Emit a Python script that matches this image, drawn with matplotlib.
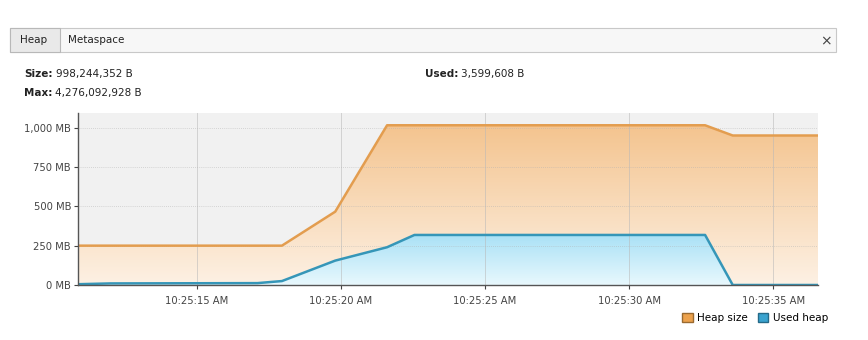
import numpy as np
import matplotlib
matplotlib.use('Agg')
import matplotlib.pyplot as plt
from matplotlib.patches import Rectangle, Patch
from matplotlib.colors import LinearSegmentedColormap

# seconds after 10:25:00
heap_t = [10.87, 17.95, 19.8, 21.6, 32.64, 33.6, 36.56]
heap_mb = [250, 250, 466, 1015, 1015, 950, 950]

used_t = [10.87, 12.0, 17.1, 17.95, 19.8, 21.6, 22.55, 32.64, 33.6, 36.56]
used_mb = [5, 10, 12, 25, 155, 240, 318, 318, 0, 0]

y_ticks = [0, 250, 500, 750, 1000]
y_labels = ['0 MB', '250 MB', '500 MB', '750 MB', '1,000 MB']
x_ticks = [15, 20, 25, 30, 35]
x_labels = ['10:25:15 AM', '10:25:20 AM', '10:25:25 AM', '10:25:30 AM', '10:25:35 AM']

info = [('Size:', '998,244,352 B', 24, 74),
        ('Max:', '4,276,092,928 B', 24, 93),
        ('Used:', '3,599,608 B', 425, 74)]

plt.rcParams['font.family'] = ['DejaVu Sans']

fig = plt.figure(figsize=(8.68, 3.4), dpi=100)
W, H = 868, 340

def fx(px):
    return px / W

def fy(py):
    return 1 - py / H

# tab bar
fig.patches.append(Rectangle((fx(10), fy(52)), fx(826), 24 / H, transform=fig.transFigure,
                             facecolor='#f7f7f7', edgecolor='#c8c8c8', lw=0.8))
fig.patches.append(Rectangle((fx(10), fy(52)), fx(50), 24 / H, transform=fig.transFigure,
                             facecolor='#e9e9e9', edgecolor='#b8b8b8', lw=0.8))
fig.text(fx(20), fy(40), 'Heap', fontsize=7.5, va='center', color='#222222')
fig.text(fx(68), fy(40), 'Metaspace', fontsize=7.5, va='center', color='#222222')
fig.text(fx(826), fy(41), '×', fontsize=10, va='center', ha='center', color='#444444')

# info text: bold label followed by value
renderer = fig.canvas.get_renderer()
for lab, val, px, py in info:
    t = fig.text(fx(px), fy(py), lab, fontsize=7.5, fontweight='bold', va='center', color='#222222')
    w = t.get_window_extent(renderer).width
    fig.text(fx(px) + (w + 3) / W, fy(py), val, fontsize=7.5, va='center', color='#222222')

ax = fig.add_axes([fx(78), fy(285), fx(818 - 78), (285 - 113) / H])
ax.set_facecolor('#f1f1f1')
ax.set_xlim(heap_t[0], heap_t[-1])
ax.set_ylim(0, 1093)


def gradient_fill(t, v, top_col, bot_col, line_col, z):
    poly = ax.fill_between(t, v, 0, facecolor='none', edgecolor='none', zorder=z)
    cmap = LinearSegmentedColormap.from_list('g', [bot_col, top_col])
    grad = np.linspace(0, 1, 256).reshape(-1, 1)
    im = ax.imshow(grad, cmap=cmap, aspect='auto', origin='lower',
                   extent=[t[0], t[-1], 0, max(v)], zorder=z)
    im.set_clip_path(poly.get_paths()[0], transform=ax.transData)
    ax.plot(t, v, color=line_col, lw=1.8, zorder=z + 2, solid_joinstyle='round')


# grid drawn over the fills, faint
for y in y_ticks[1:]:
    ax.axhline(y, color='#b0b0b0', alpha=0.6, lw=0.6, ls=(0, (1, 1.5)), zorder=4)
for x in x_ticks:
    ax.axvline(x, color='#b8b8b8', alpha=0.55, lw=0.7, zorder=4)

gradient_fill(heap_t, heap_mb, '#f4c48f', '#fdf1e4', '#e39d4f', 2)
gradient_fill(used_t, used_mb, '#a9e1f6', '#e8f8fd', '#3596b8', 3)

ax.set_xticks(x_ticks)
ax.set_xticklabels(x_labels)
ax.set_yticks(y_ticks)
ax.set_yticklabels(y_labels)
ax.tick_params(labelsize=7.2, colors='#444444', length=3, width=0.8, pad=2)
ax.tick_params(axis='x', pad=5)
for s in ['top', 'right']:
    ax.spines[s].set_visible(False)
for s in ['left', 'bottom']:
    ax.spines[s].set_color('#555555')
    ax.spines[s].set_linewidth(1.0)
    ax.spines[s].set_zorder(6)

handles = [Patch(facecolor='#eda24d', edgecolor='#9a6a30', label='Heap size'),
           Patch(facecolor='#3aa3cf', edgecolor='#256a88', label='Used heap')]
fig.legend(handles=handles, loc='center right', bbox_to_anchor=(fx(832), fy(318)),
           ncol=2, frameon=False, fontsize=7.5, handlelength=1.0, handleheight=1.0,
           handletextpad=0.4, columnspacing=1.0, borderaxespad=0)

fig.savefig('out.png', dpi=100)
